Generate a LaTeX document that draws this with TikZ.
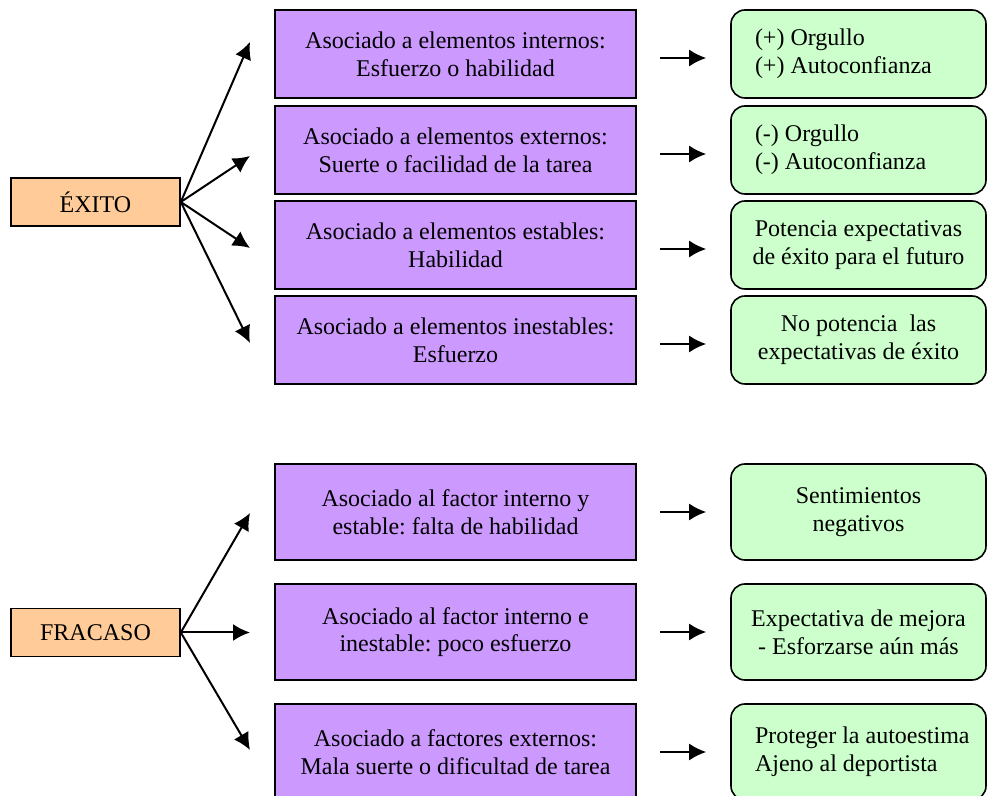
\documentclass[tikz,border=0pt]{standalone}
\usepackage{fontspec}
\setmainfont{Liberation Serif}
\usepackage{tikz}
\usetikzlibrary{arrows.meta}

\definecolor{resfill}{HTML}{FFCC99}
\definecolor{causafill}{HTML}{CC99FF}
\definecolor{efectofill}{HTML}{CCFFCC}

\begin{document}
\begin{tikzpicture}[x=0.5pt, y=-0.5pt,
    font=\fontsize{12}{13.8}\selectfont\frenchspacing,
    resultado/.style={draw, line width=0.8pt, fill=resfill, minimum width=84.5pt, minimum height=24pt, inner sep=0pt},
    causa/.style={draw, line width=0.8pt, fill=causafill, minimum width=180.5pt, minimum height=44pt, align=flush center, inner sep=0pt},
    efecto/.style={draw, line width=0.8pt, fill=efectofill, rounded corners=7pt, minimum width=127.5pt, minimum height=44pt, align=flush center, inner sep=0pt},
    efectoizq/.style={efecto, align=flush left, text width=103.5pt, inner xsep=12pt},
    flecha/.style={-{Latex[length=8.5pt,width=8.5pt]}, line width=1pt}]
        \useasboundingbox (0,0) rectangle (987,796);

        % Exito
        \node[resultado] (exito) at (95.5,202) {ÉXITO};

        \node[causa] (pA) at (455.5,54) {Asociado a elementos internos:\\ Esfuerzo o habilidad};
        \node[causa] (pB) at (455.5,150) {Asociado a elementos externos:\\ Suerte o facilidad de la tarea};
        \node[causa] (pC) at (455.5,245) {Asociado a elementos estables:\\ Habilidad};
        \node[causa] (pD) at (455.5,340) {Asociado a elementos inestables:\\ Esfuerzo};

        \node[efectoizq] (gA) at (858.5,54) {\mbox{(+) Orgullo}\\ \mbox{(+) Autoconfianza}};
        \node[efectoizq] (gB) at (858.5,150) {\mbox{(-) Orgullo}\\ \mbox{(-) Autoconfianza}};
        \node[efecto] (gC) at (858.5,245) {Potencia expectativas\\ de éxito para el futuro};
        \node[efecto] (gD) at (858.5,340) {No potencia\ \ las\\ expectativas de éxito};

        \coordinate (tA) at (250,42);
        \coordinate (tB) at (250,156);
        \coordinate (tC) at (250,248);
        \coordinate (tD) at (250,343);
        \foreach \t in {tA,tB,tC,tD}
            \draw[flecha] (exito.east) -- (\t);
        \foreach \c/\e in {pA/gA,pB/gB,pC/gC,pD/gD}
            \draw[flecha] ([shift={(11.5pt,-2pt)}]\c.east) -- ([shift={(-12pt,-2pt)}]\e.west);

        % Fracaso
        \node[resultado] (fracaso) at (95.5,632.5) {FRACASO};

        \node[causa, minimum height=48pt] (pE) at (455.5,512) {Asociado al factor interno y\\ estable: falta de habilidad};
        \node[causa, minimum height=48pt] (pF) at (455.5,632) {Asociado al factor interno e\\ inestable: poco esfuerzo};
        \node[causa, minimum height=48pt] (pG) at (455.5,752) {Asociado a factores externos:\\ Mala suerte o dificultad de tarea};

        \node[efecto, minimum height=48pt] (gE) at (858.5,512) {Sentimientos\\ negativos};
        \node[efecto, minimum height=48pt] (gF) at (858.5,632) {Expectativa de mejora\\ - Esforzarse aún más};
        \node[efectoizq, minimum height=48pt] (gG) at (858.5,752) {\mbox{Proteger la autoestima}\\ \mbox{Ajeno al deportista}};

        \coordinate (tE) at (250,513);
        \coordinate (tF) at (250,632.5);
        \coordinate (tG) at (250,750);
        \foreach \t in {tE,tF,tG}
            \draw[flecha] (fracaso.east) -- (\t);
        \foreach \c/\e in {pE/gE,pF/gF,pG/gG}
            \draw[flecha] ([xshift=11.5pt]\c.east) -- ([xshift=-12pt]\e.west);
\end{tikzpicture}
\end{document}
